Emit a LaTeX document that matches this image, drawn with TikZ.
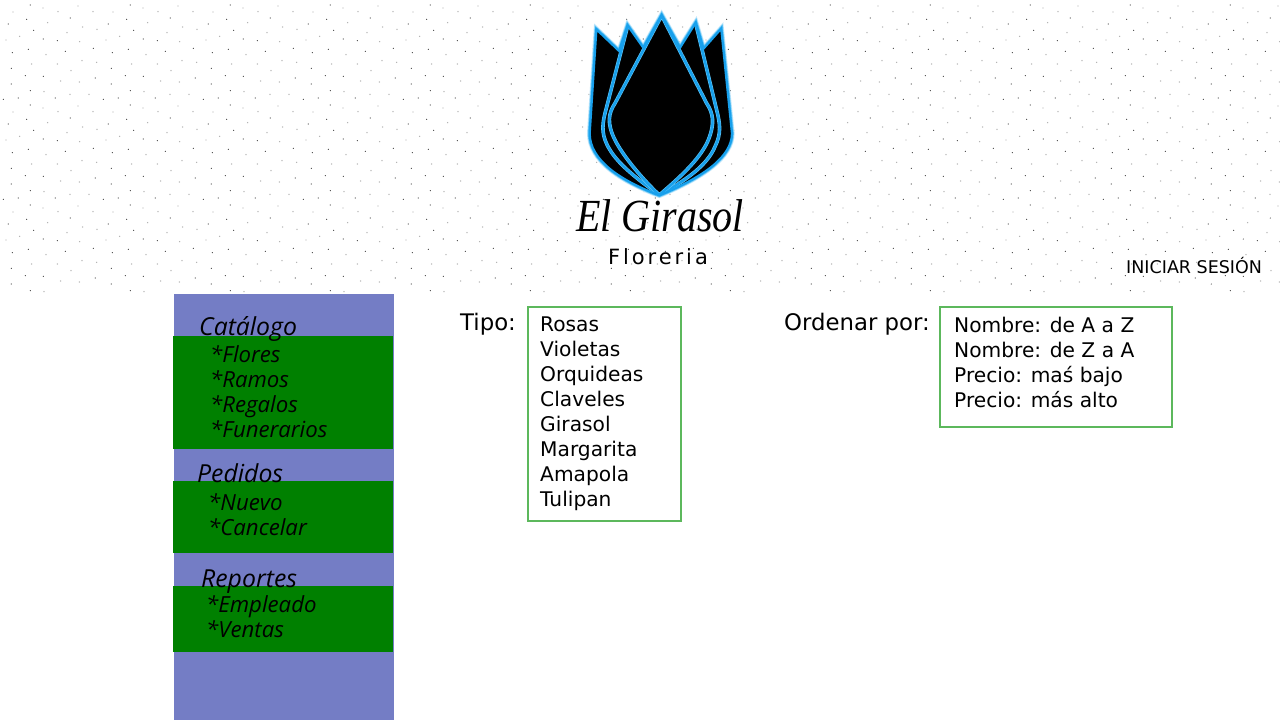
\documentclass[tikz,border=0pt]{standalone}
\usepackage{fontspec}
\usepackage{graphicx}
\setmainfont{DejaVu Sans}
\newfontfamily\handfont{Open Sans}
\newfontfamily\titlefont{Liberation Serif}
\newfontfamily\subfont[LetterSpace=14]{DejaVu Sans}
\definecolor{side}{HTML}{747DC5}
\definecolor{block}{HTML}{008000}
\definecolor{boxline}{HTML}{5CB85C}
\definecolor{glowA}{HTML}{BFE6FB}
\definecolor{glowB}{HTML}{5FC4F6}
\definecolor{core}{HTML}{18A0EC}
\tikzset{
  menuband/.style={fill=block,draw=none},
  listbox/.style={draw=boxline,line width=1.6pt,fill=white,minimum width=0pt},
  bodytext/.style={anchor=base west,inner sep=0pt,font=\fontsize{20.2}{25}\selectfont},
  labeltext/.style={anchor=base west,inner sep=0pt,font=\fontsize{22.8}{25}\selectfont},
  head/.style={anchor=base west,inner sep=0pt,font=\handfont\itshape\fontsize{24.8}{25}\selectfont},
  item/.style={anchor=base west,inner sep=0pt,font=\handfont\itshape\fontsize{22.2}{25}\selectfont},
  dotdark/.style={fill=black!72,draw=none},
  dotlight/.style={fill=black!32,draw=none}
}
\def\outline{(110,90) -- (178,155) -- (203,78) -- (250,145) -- (305,47) -- (360,145) -- (407,70) -- (430,148) -- (483,88) -- (515,400) .. controls (515,470) and (430,530) .. (298,585) .. controls (180,540) and (90,480) .. (90,400) -- cycle}
\def\innerA{(305,47) -- (165,310) .. controls (145,340) and (140,370) .. (165,420) .. controls (190,470) and (250,540) .. (298,585) .. controls (350,540) and (420,480) .. (445,420) .. controls (465,370) and (460,340) .. (440,310) -- cycle}
\def\innerB{(203,78) -- (135,340) .. controls (125,380) and (125,410) .. (150,450) .. controls (180,500) and (250,550) .. (298,585) .. controls (370,545) and (440,500) .. (465,440) .. controls (485,400) and (480,370) .. (470,330) -- (407,70)}
\begin{document}
\begin{tikzpicture}[x=1pt,y=-1pt]
\useasboundingbox (0,0) rectangle (1280,720);
\fill[white] (0,0) rectangle (1280,720);
% dots
\begin{scope}
\clip (0,0) rectangle (1280,292);
\foreach \tx in {0,100,...,1200}{
 \foreach \ty in {0,100,200}{
  \begin{scope}[shift={(\tx,\ty)}]
  \foreach \a/\b in {91/15,80/58,25/72,211/54,101/91,130/117,172/122,280/145,37/158,85/148,196/154,34/205,76/227,130/229,286/234,91/272,10/298,55/294,166/294,34/252}
    \fill[dotdark] (\a/3,\b/3) circle (0.6);
  \foreach \a/\b in {129/24,39/36,174/35,234/18,279/35,143/68,248/81,291/88,201/98,59/109,18/120,239/125,138/164,95/192,172/192,246/182,290/187,213/212,182/243,238/246,132/275,210/283,267/283}
    \fill[dotlight] (\a/3,\b/3) circle (0.7);
  \end{scope}
 }
}
\end{scope}
% logo
\begin{scope}[shift={(560,0)},x=0.3333pt,y=-0.3333pt,line join=miter]
\draw[glowA,line width=6pt] \outline;
\draw[glowB,line width=4.4pt] \outline;
\draw[core,line width=3pt] \outline;
\fill[black] \outline;
\begin{scope}
\clip \outline;
\draw[glowB,line width=3.6pt] \innerB;
\draw[core,line width=2.4pt] \innerB;
\fill[black] \innerA;
\draw[glowB,line width=3.6pt] \innerA;
\draw[core,line width=2.4pt] \innerA;
\end{scope}
\draw[core,line width=1.6pt] \outline;
\end{scope}
\node[anchor=base,inner sep=0pt,font=\titlefont\itshape\fontsize{46}{46}\selectfont] (title) at (660,231) {\scalebox{0.87}[1]{El Girasol}};
\node[anchor=base,inner sep=0pt,font=\subfont\fontsize{21}{21}\selectfont] (sub) at (658,264) {Floreria};
\node[anchor=base west,inner sep=0pt,font=\fontsize{17.5}{17}\selectfont] (login) at (1126,273) {INICIAR SESIÓN};
% sidebar
\fill[side] (174,294) rectangle (394,720);
\fill[menuband] (173,336) rectangle (393,449);
\fill[menuband] (173,481) rectangle (393,553);
\fill[menuband] (173,586) rectangle (393,652);
\node[head] (cat) at (199,335) {Catálogo};
\node[item] (c1) at (210,362) {*Flores};
\node[item] (c2) at (210,387) {*Ramos};
\node[item] (c3) at (210,412) {*Regalos};
\node[item] (c4) at (210,437) {*Funerarios};
\node[head] (ped) at (197,482) {Pedidos};
\node[item] (p1) at (208,510) {*Nuevo};
\node[item] (p2) at (208,535) {*Cancelar};
\node[head] (rep) at (201,587) {Reportes};
\node[item] (r1) at (206,612) {*Empleado};
\node[item] (r2) at (206,637) {*Ventas};
% lists
\draw[listbox] (528,307) rectangle (681,521);
\draw[listbox] (940,307) rectangle (1172,427);
\node[labeltext] (tipo) at (460,330) {Tipo:};
\node[labeltext] (ord) at (784,330) {Ordenar por:};
\node[bodytext] (t1) at (540,331) {Rosas};
\node[bodytext] (t2) at (540,356) {Violetas};
\node[bodytext] (t3) at (540,381) {Orquideas};
\node[bodytext] (t4) at (540,406) {Claveles};
\node[bodytext] (t5) at (540,431) {Girasol};
\node[bodytext] (t6) at (540,456) {Margarita};
\node[bodytext] (t7) at (540,481) {Amapola};
\node[bodytext] (t8) at (540,506) {Tulipan};
\node[bodytext] (o1) at (954,332) {Nombre: de A a Z};
\node[bodytext] (o2) at (954,357) {Nombre: de Z a A};
\node[bodytext] (o3) at (954,382) {Precio: maś bajo};
\node[bodytext] (o4) at (954,407) {Precio: más alto};
\end{tikzpicture}
\end{document}
